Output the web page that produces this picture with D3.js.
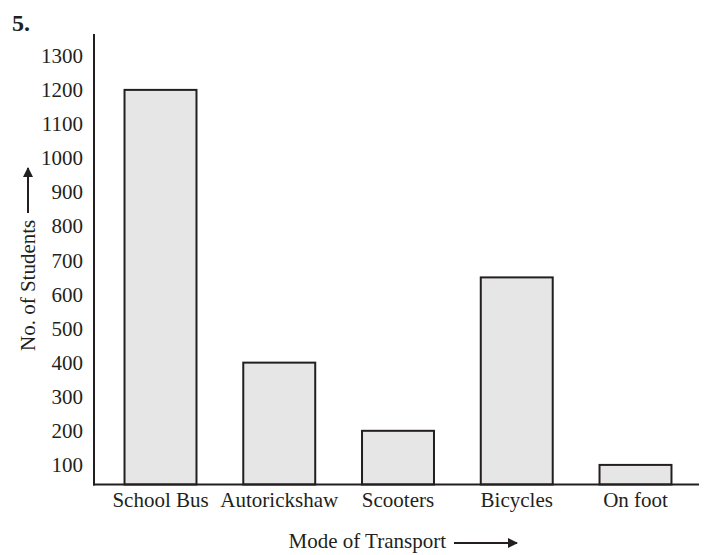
<!DOCTYPE html>
<html>
<head>
<meta charset="utf-8">
<script src="https://cdn.jsdelivr.net/npm/d3@7"></script>
<style>
  html, body { margin: 0; padding: 0; background: #fff; }
  svg { display: block; }
  text { font-family: "Liberation Serif", "Times New Roman", serif; fill: #231f20; }
</style>
</head>
<body>
<svg id="chart" width="705" height="555"></svg>
<script>
// Mode of transport used by students
const categories = ["School Bus", "Autorickshaw", "Scooters", "Bicycles", "On foot"];
const students = [1200, 400, 200, 650, 100];
const yTicks = [100, 200, 300, 400, 500, 600, 700, 800, 900, 1000, 1100, 1200, 1300];

const ink = "#231f20";
const fontSize = 21;
const svg = d3.select("#chart");

const axisX = 94, baseY = 484.5, axisTop = 34, axisRight = 699;

const x = d3.scaleBand()
  .domain(categories)
  .range([axisX, 702])
  .paddingInner(0.394)
  .paddingOuter(0.257);

const y = d3.scaleLinear()
  .domain([0, 1300])
  .range([499, 55.8]);

// arrow head marker
const defs = svg.append("defs");
defs.append("marker")
  .attr("id", "arrow")
  .attr("viewBox", "0 0 10 10")
  .attr("refX", 9).attr("refY", 5)
  .attr("markerWidth", 10).attr("markerHeight", 10)
  .attr("markerUnits", "userSpaceOnUse")
  .attr("orient", "auto")
  .append("path")
  .attr("d", "M0,0 L10,5 L0,10 Z")
  .attr("fill", ink);

// bars rise from the baseline
svg.append("g").selectAll("rect")
  .data(categories.map((c, i) => ({ c, v: students[i] })))
  .join("rect")
  .attr("x", d => x(d.c))
  .attr("width", x.bandwidth())
  .attr("y", d => y(d.v))
  .attr("height", d => baseY - y(d.v))
  .attr("fill", "#e6e6e6")
  .attr("stroke", ink)
  .attr("stroke-width", 2);

// y axis: vertical line with tick labels only
const yAxis = d3.axisLeft(y).tickValues(yTicks).tickSize(0).tickPadding(11).tickFormat(d3.format("d"));
const gy = svg.append("g").attr("transform", `translate(${axisX},0)`).call(yAxis);
gy.select(".domain").remove();
gy.selectAll("text").attr("font-size", fontSize).attr("fill", ink)
  .attr("font-family", "Liberation Serif, serif");

svg.append("line")
  .attr("x1", axisX).attr("x2", axisX)
  .attr("y1", axisTop).attr("y2", baseY + 1)
  .attr("stroke", ink).attr("stroke-width", 2);

// x axis baseline and category labels
svg.append("line")
  .attr("x1", axisX - 1).attr("x2", axisRight)
  .attr("y1", baseY).attr("y2", baseY)
  .attr("stroke", ink).attr("stroke-width", 2);

const xAxis = d3.axisBottom(x).tickSize(0).tickPadding(8);
const gx = svg.append("g").attr("transform", `translate(0,${baseY})`).call(xAxis);
gx.select(".domain").remove();
gx.selectAll("text").attr("font-size", fontSize).attr("fill", ink)
  .attr("font-family", "Liberation Serif, serif");

// axis titles with arrows
svg.append("text")
  .attr("x", 446).attr("y", 548)
  .attr("text-anchor", "end")
  .attr("font-size", fontSize)
  .text("Mode of Transport");
svg.append("line")
  .attr("x1", 454).attr("x2", 517)
  .attr("y1", 543).attr("y2", 543)
  .attr("stroke", ink).attr("stroke-width", 2)
  .attr("marker-end", "url(#arrow)");

svg.append("text")
  .attr("transform", "translate(35,351) rotate(-90)")
  .attr("text-anchor", "start")
  .attr("font-size", fontSize)
  .text("No. of Students");
svg.append("line")
  .attr("x1", 28).attr("x2", 28)
  .attr("y1", 213).attr("y2", 168)
  .attr("stroke", ink).attr("stroke-width", 2)
  .attr("marker-end", "url(#arrow)");

// question number
svg.append("text")
  .attr("x", 12).attr("y", 31)
  .attr("font-size", 24)
  .attr("font-weight", "bold")
  .text("5.");
</script>
</body>
</html>
